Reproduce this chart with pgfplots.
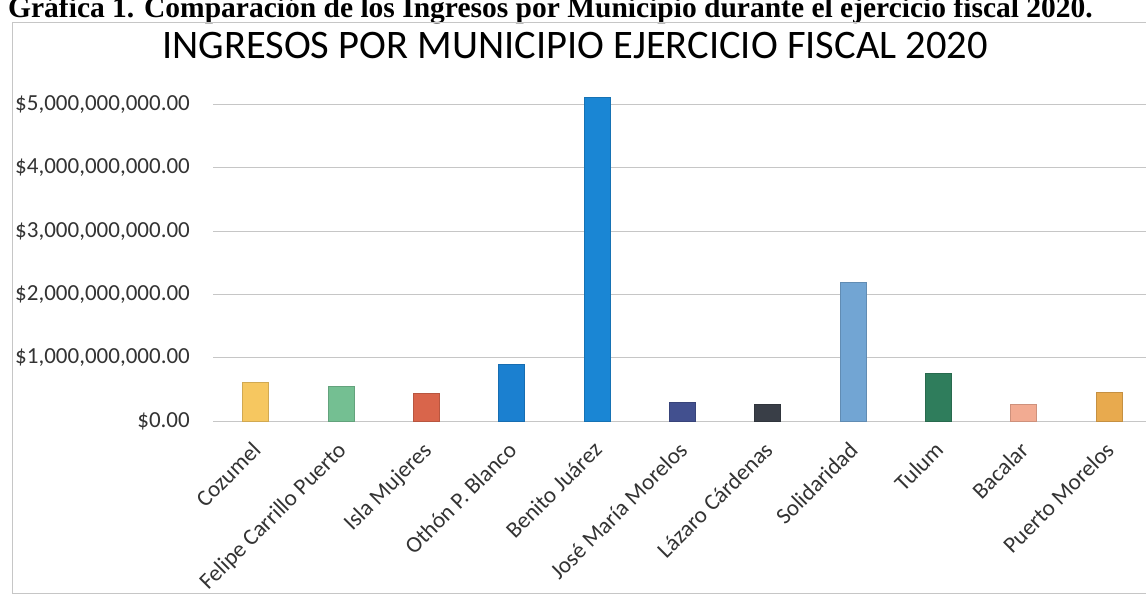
\documentclass[border=0pt]{standalone}
\usepackage{fontspec}
\setmainfont{Carlito}
\newfontfamily\capfont{Liberation Serif}
\usepackage{pgfplots}
\pgfplotsset{compat=1.18}
\definecolor{cCoz}{HTML}{F6C760}
\definecolor{cFel}{HTML}{74BF92}
\definecolor{cIsl}{HTML}{D9654B}
\definecolor{cOth}{HTML}{1B80D0}
\definecolor{cBen}{HTML}{1A86D4}
\definecolor{cJos}{HTML}{42508F}
\definecolor{cLaz}{HTML}{393E47}
\definecolor{cSol}{HTML}{72A5D3}
\definecolor{cTul}{HTML}{2F7D5C}
\definecolor{cBac}{HTML}{F2AB92}
\definecolor{cPue}{HTML}{E8AA4E}
\begin{document}
\begin{tikzpicture}[x=1pt,y=1pt]
\useasboundingbox (0,0) rectangle (1146,600);
\clip (0,0) rectangle (1146,600);
\fill[white] (0,0) rectangle (1146,600);
\node[anchor=base west, inner sep=0] at (8,582) {\capfont\bfseries\fontsize{29.5}{33}\selectfont Gráfica 1. Comparación de los Ingresos por Municipio durante el ejercicio fiscal 2020.};
\draw[gray!45, line width=0.8] (12,7) rectangle (1160,578);
\node[anchor=base, inner sep=0] at (575,541) {\fontsize{40.5}{46}\selectfont INGRESOS POR MUNICIPIO EJERCICIO FISCAL 2020};
\begin{axis}[
  at={(213pt,179pt)}, anchor=south west,
  scale only axis, width=938.6pt, height=329.2pt,
  xmin=-0.5, xmax=10.5, ymin=0, ymax=5.2e9,
  axis line style={draw=none}, major tick length=0pt,
  ymajorgrids, grid style={gray!45, line width=0.8pt},
  xtick={0,1,2,3,4,5,6,7,8,9,10},
  xticklabels={Cozumel, Felipe Carrillo Puerto, Isla Mujeres, Othón P. Blanco, Benito Juárez, José María Morelos, Lázaro Cárdenas, Solidaridad, Tulum, Bacalar, Puerto Morelos},
  xticklabel style={rotate=45, anchor=north east, inner sep=0pt, font=\fontsize{23}{27}\selectfont, xshift=-17pt, yshift=-10pt, text=black!80},
  ytick={0,1e9,2e9,3e9,4e9,5e9},
  yticklabels={{\$0.00},{\$1,000,000,000.00},{\$2,000,000,000.00},{\$3,000,000,000.00},{\$4,000,000,000.00},{\$5,000,000,000.00}},
  yticklabel style={anchor=east, inner sep=0pt, xshift=-23pt, font=\fontsize{23}{27}\selectfont, text=black!80},
  scaled y ticks=false,
  ybar, bar width=26pt,
]
\addplot[ybar, bar shift=0pt, fill=cCoz, draw=cCoz!85!black] coordinates {(0,0.61e9)};
\addplot[ybar, bar shift=0pt, fill=cFel, draw=cFel!85!black] coordinates {(1,0.555e9)};
\addplot[ybar, bar shift=0pt, fill=cIsl, draw=cIsl!85!black] coordinates {(2,0.435e9)};
\addplot[ybar, bar shift=0pt, fill=cOth, draw=cOth!85!black] coordinates {(3,0.90e9)};
\addplot[ybar, bar shift=0pt, fill=cBen, draw=cBen!85!black] coordinates {(4,5.12e9)};
\addplot[ybar, bar shift=0pt, fill=cJos, draw=cJos!85!black] coordinates {(5,0.30e9)};
\addplot[ybar, bar shift=0pt, fill=cLaz, draw=cLaz!85!black] coordinates {(6,0.26e9)};
\addplot[ybar, bar shift=0pt, fill=cSol, draw=cSol!85!black] coordinates {(7,2.20e9)};
\addplot[ybar, bar shift=0pt, fill=cTul, draw=cTul!85!black] coordinates {(8,0.76e9)};
\addplot[ybar, bar shift=0pt, fill=cBac, draw=cBac!85!black] coordinates {(9,0.26e9)};
\addplot[ybar, bar shift=0pt, fill=cPue, draw=cPue!85!black] coordinates {(10,0.46e9)};
\end{axis}
\end{tikzpicture}
\end{document}
